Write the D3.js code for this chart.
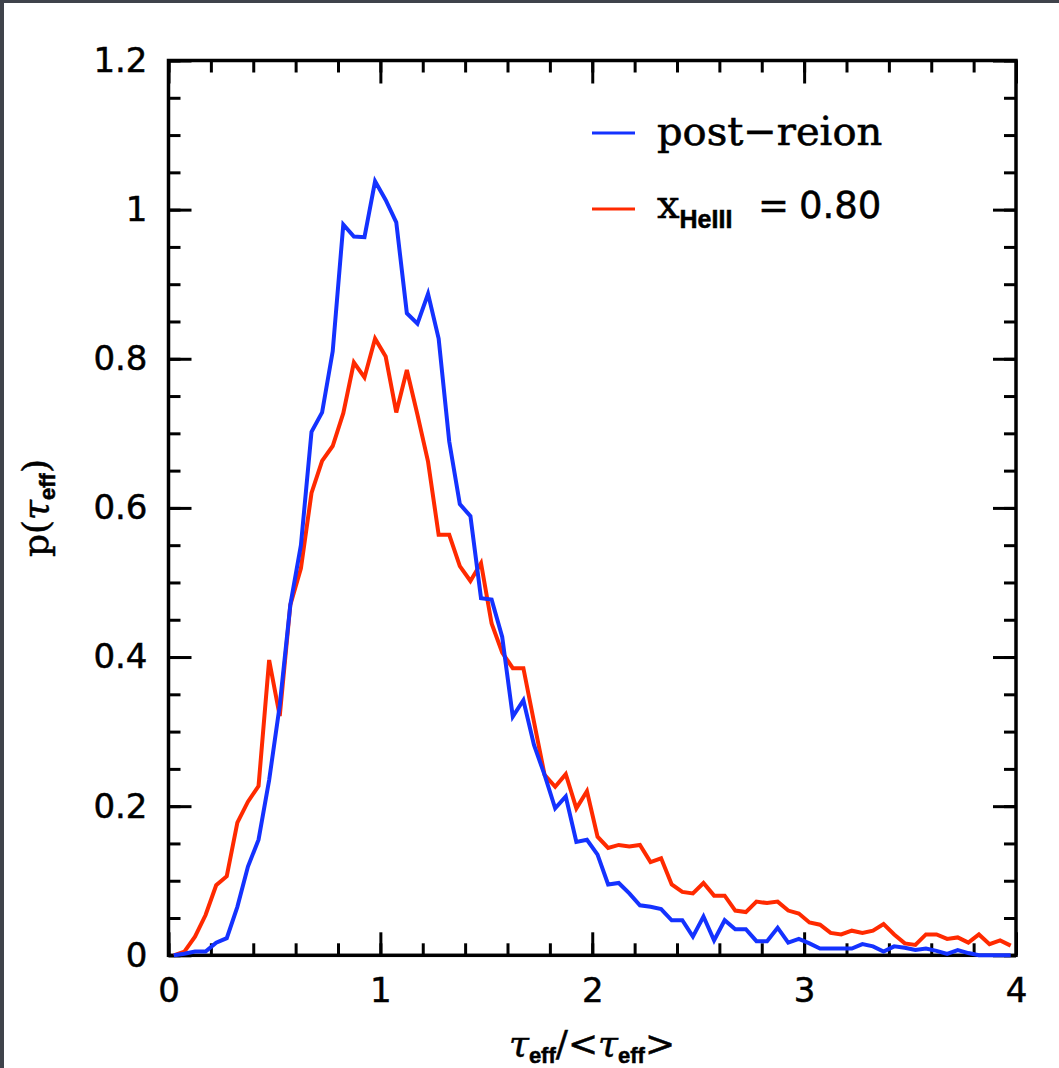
<!DOCTYPE html>
<html>
<head>
<meta charset="utf-8">
<script src="https://cdn.jsdelivr.net/npm/d3@7"></script>
<style>
  html, body { margin: 0; padding: 0; background: #ffffff; }
  svg { display: block; }
</style>
</head>
<body>
<script>
// Histogram of effective optical depth, normalised to its mean; bins of width 0.05
const binWidth = 0.05;
const nBins = 80;
const tauBins = d3.range(nBins).map(i => binWidth / 2 + i * binWidth);

const postReion = [
  0.000, 0.002, 0.005, 0.005, 0.017, 0.023, 0.065, 0.119, 0.155, 0.235,
  0.335, 0.470, 0.550, 0.702, 0.728, 0.810, 0.980, 0.964, 0.963, 1.038,
  1.013, 0.983, 0.861, 0.847, 0.887, 0.827, 0.689, 0.605, 0.589, 0.479,
  0.477, 0.427, 0.320, 0.342, 0.282, 0.242, 0.197, 0.213, 0.152, 0.155,
  0.135, 0.095, 0.097, 0.083, 0.067, 0.065, 0.062, 0.047, 0.047, 0.025,
  0.052, 0.020, 0.047, 0.035, 0.035, 0.019, 0.019, 0.037, 0.017, 0.022,
  0.016, 0.009, 0.009, 0.009, 0.009, 0.015, 0.012, 0.005, 0.012, 0.010,
  0.007, 0.009, 0.006, 0.002, 0.007, 0.003, 0.000, 0.000, 0.000, 0.000
];

const xHeIII080 = [
  0.000, 0.005, 0.025, 0.054, 0.094, 0.106, 0.178, 0.206, 0.227, 0.396,
  0.321, 0.470, 0.519, 0.620, 0.663, 0.683, 0.727, 0.795, 0.775, 0.827,
  0.803, 0.728, 0.785, 0.725, 0.662, 0.564, 0.564, 0.522, 0.502, 0.526,
  0.445, 0.406, 0.385, 0.385, 0.313, 0.242, 0.226, 0.243, 0.197, 0.220,
  0.159, 0.144, 0.148, 0.146, 0.148, 0.125, 0.130, 0.095, 0.085, 0.083,
  0.097, 0.080, 0.080, 0.060, 0.058, 0.072, 0.070, 0.072, 0.060, 0.056,
  0.044, 0.041, 0.030, 0.028, 0.033, 0.030, 0.033, 0.042, 0.028, 0.016,
  0.014, 0.028, 0.028, 0.022, 0.024, 0.017, 0.028, 0.015, 0.020, 0.013
];

const xMajorTicks = [0, 1, 2, 3, 4];
const xMinorTicks = d3.range(0, 4.0001, 0.2);
const yMajorTicks = [0, 0.2, 0.4, 0.6, 0.8, 1.0, 1.2];
const yMinorTicks = d3.range(0, 1.2001, 0.05);
const yTickLabels = ["0", "0.2", "0.4", "0.6", "0.8", "1", "1.2"];

const W = 1059, H = 1068;
const plot = { left: 168.5, right: 1016, top: 60.5, bottom: 955.3 };
const blue = "#1432ff";
const red = "#ff2a00";

const svg = d3.select("body").append("svg")
  .attr("width", W).attr("height", H);

// window chrome strips
svg.append("rect").attr("x", 0).attr("y", 0).attr("width", W).attr("height", 3).attr("fill", "#3f434b");
svg.append("rect").attr("x", 0).attr("y", 0).attr("width", 4).attr("height", H).attr("fill", "#3f434b");

const x = d3.scaleLinear().domain([0, 4]).range([plot.left, plot.right]);
const y = d3.scaleLinear().domain([0, 1.2]).range([plot.bottom, plot.top]);

const tickFont = "'DejaVu Sans', sans-serif";

function styleAxis(g, width) {
  g.select(".domain").remove();
  g.selectAll(".tick line").attr("stroke", "#000").attr("stroke-width", width);
  g.selectAll(".tick text").attr("fill", "#000")
    .style("font-family", tickFont).style("font-size", "34px")
    .attr("stroke", "#000").attr("stroke-width", 0.5);
}

// minor ticks on all four sides
svg.append("g").attr("transform", `translate(0,${plot.bottom})`)
  .call(d3.axisBottom(x).tickValues(xMinorTicks).tickSize(-12).tickFormat(""))
  .call(g => styleAxis(g, 3));
svg.append("g").attr("transform", `translate(0,${plot.top})`)
  .call(d3.axisTop(x).tickValues(xMinorTicks).tickSize(-12).tickFormat(""))
  .call(g => styleAxis(g, 3));
svg.append("g").attr("transform", `translate(${plot.left},0)`)
  .call(d3.axisLeft(y).tickValues(yMinorTicks).tickSize(-12).tickFormat(""))
  .call(g => styleAxis(g, 3));
svg.append("g").attr("transform", `translate(${plot.right},0)`)
  .call(d3.axisRight(y).tickValues(yMinorTicks).tickSize(-12).tickFormat(""))
  .call(g => styleAxis(g, 3));

// major ticks with labels
svg.append("g").attr("transform", `translate(0,${plot.bottom})`)
  .call(d3.axisBottom(x).tickValues(xMajorTicks).tickSize(-23).tickPadding(23).tickFormat(d3.format("d")))
  .call(g => styleAxis(g, 3));
svg.append("g").attr("transform", `translate(0,${plot.top})`)
  .call(d3.axisTop(x).tickValues(xMajorTicks).tickSize(-23).tickFormat(""))
  .call(g => styleAxis(g, 3));
svg.append("g").attr("transform", `translate(${plot.left},0)`)
  .call(d3.axisLeft(y).tickValues(yMajorTicks).tickSize(-23).tickPadding(21)
    .tickFormat((d, i) => yTickLabels[i]))
  .call(g => styleAxis(g, 3));
svg.append("g").attr("transform", `translate(${plot.right},0)`)
  .call(d3.axisRight(y).tickValues(yMajorTicks).tickSize(-23).tickFormat(""))
  .call(g => styleAxis(g, 3));

// plot frame
svg.append("rect")
  .attr("x", plot.left).attr("y", plot.top)
  .attr("width", plot.right - plot.left).attr("height", plot.bottom - plot.top)
  .attr("fill", "none").attr("stroke", "#000").attr("stroke-width", 3.5);

// curves
const line = d3.line().x((d, i) => x(tauBins[i])).y(d => y(d));
svg.append("path").datum(xHeIII080)
  .attr("d", line).attr("fill", "none").attr("stroke", red)
  .attr("stroke-width", 4).attr("stroke-linejoin", "miter");
svg.append("path").datum(postReion)
  .attr("d", line).attr("fill", "none").attr("stroke", blue)
  .attr("stroke-width", 4).attr("stroke-linejoin", "miter");

// legend
const serif = "'DejaVu Serif', serif";
const subFont = "'Liberation Sans', sans-serif";
const legend = svg.append("g");
legend.append("line").attr("x1", 592).attr("x2", 635).attr("y1", 133).attr("y2", 133)
  .attr("stroke", blue).attr("stroke-width", 3);
legend.append("text").attr("x", 657).attr("y", 145)
  .style("font-family", serif).style("font-size", "40px").attr("fill", "#000")
  .attr("stroke", "#000").attr("stroke-width", 0.6)
  .text("post\u2212reion");

legend.append("line").attr("x1", 592).attr("x2", 635).attr("y1", 209).attr("y2", 209)
  .attr("stroke", red).attr("stroke-width", 3);
const l2 = legend.append("text").attr("x", 657).attr("y", 218).attr("fill", "#000")
  .attr("stroke", "#000").attr("stroke-width", 0.5);
l2.append("tspan").style("font-family", serif).style("font-size", "40px").text("x");
l2.append("tspan").attr("dy", 10).style("font-family", subFont)
  .style("font-weight", "bold").style("font-size", "25px").text("HeIII");
l2.append("tspan").attr("x", 758).attr("dy", -10)
  .style("font-family", tickFont).style("font-size", "37px").text("=");
l2.append("tspan").attr("x", 799)
  .style("font-family", tickFont).style("font-size", "37px").text("0.80");

// axis titles
const yTitle = svg.append("text")
  .attr("transform", "translate(48,508) rotate(-90)")
  .attr("text-anchor", "middle").attr("fill", "#000")
  .attr("stroke", "#000").attr("stroke-width", 0.5)
  .style("font-family", serif).style("font-size", "36px");
yTitle.append("tspan").text("p(");
yTitle.append("tspan").style("font-style", "italic").text("\u03c4");
yTitle.append("tspan").attr("dy", 7).style("font-family", subFont)
  .style("font-weight", "bold").style("font-size", "22px").text("eff");
yTitle.append("tspan").attr("dy", -7).text(")");

const xTitle = svg.append("text")
  .attr("x", 592).attr("y", 1056)
  .attr("text-anchor", "middle").attr("fill", "#000")
  .attr("stroke", "#000").attr("stroke-width", 0.5)
  .style("font-family", serif).style("font-size", "36px");
xTitle.append("tspan").style("font-style", "italic").text("\u03c4");
xTitle.append("tspan").attr("dy", 7).style("font-family", subFont)
  .style("font-weight", "bold").style("font-size", "22px").text("eff");
xTitle.append("tspan").attr("dy", -7).text("/<");
xTitle.append("tspan").style("font-style", "italic").text("\u03c4");
xTitle.append("tspan").attr("dy", 7).style("font-family", subFont)
  .style("font-weight", "bold").style("font-size", "22px").text("eff");
xTitle.append("tspan").attr("dy", -7).text(">");
</script>
</body>
</html>
